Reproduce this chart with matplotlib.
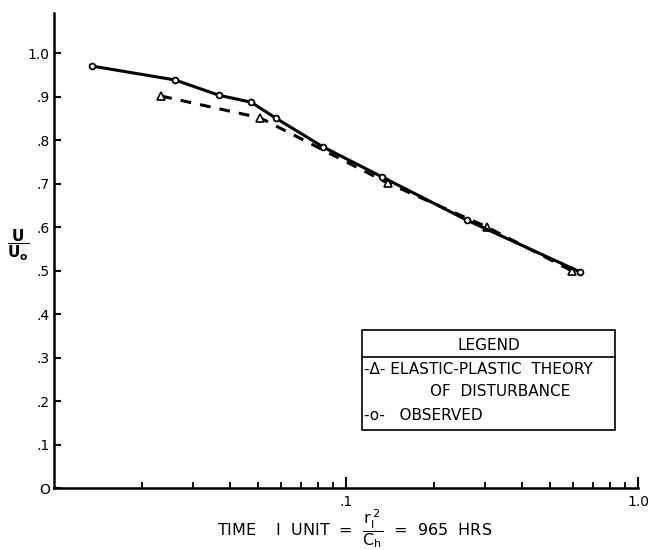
import matplotlib
matplotlib.use("Agg")
import matplotlib.pyplot as plt
from matplotlib.patches import Rectangle
from matplotlib.lines import Line2D
from matplotlib.ticker import FixedLocator, NullFormatter

# Observed values
obs_x = [0.0135, 0.0260, 0.0367, 0.0473, 0.0576, 0.0835, 0.133, 0.259, 0.632]
obs_y = [0.970, 0.938, 0.903, 0.887, 0.850, 0.784, 0.715, 0.616, 0.497]

# Elastic-plastic theory of disturbance
th_x = [0.0233, 0.0508, 0.139, 0.304, 0.594]
th_y = [0.901, 0.851, 0.701, 0.600, 0.499]

y_ticks = [0.0, 0.1, 0.2, 0.3, 0.4, 0.5, 0.6, 0.7, 0.8, 0.9, 1.0]
y_labels = ["O", ".1", ".2", ".3", ".4", ".5", ".6", ".7", ".8", ".9", "1.0"]
x_major = [0.1, 1.0]
x_major_labels = [".1", "1.0"]
x_minor = [0.02, 0.03, 0.04, 0.05, 0.06, 0.07, 0.08, 0.09,
           0.2, 0.3, 0.4, 0.5, 0.6, 0.7, 0.8, 0.9]

plt.rcParams['font.family'] = ['DejaVu Sans']
plt.rcParams['mathtext.fontset'] = 'dejavusans'

fig = plt.figure(figsize=(6.49, 5.5), dpi=100)
ax = fig.add_axes([54/649, 1-488/550, 584/649, 475/550])
ax.set_xscale('log')
ax.set_xlim(0.01, 1.0)
ax.set_ylim(0, 1.092)

ax.plot(obs_x, obs_y, '-', color='black', lw=2.2, marker='o', ms=4.2,
        mfc='white', mec='black', mew=1.3, zorder=3)
ax.plot(th_x, th_y, '--', color='black', lw=2.2, dashes=(3.5, 3.0), marker='^', ms=6,
        mfc='white', mec='black', mew=1.2, zorder=2)

for s in ['top', 'right']:
    ax.spines[s].set_visible(False)
for s in ['left', 'bottom']:
    ax.spines[s].set_linewidth(1.8)

ax.set_yticks(y_ticks)
ax.set_yticklabels(y_labels, fontsize=10)
ax.xaxis.set_major_locator(FixedLocator(x_major))
ax.set_xticklabels(x_major_labels, fontsize=10)
ax.xaxis.set_minor_locator(FixedLocator(x_minor))
ax.xaxis.set_minor_formatter(NullFormatter())
ax.tick_params(axis='x', which='major', direction='in', length=8, width=1.5, pad=5)
ax.tick_params(axis='x', which='minor', direction='in', length=4, width=1.3)
ax.tick_params(axis='y', which='major', direction='in', length=5, width=1.5, pad=3)
ax.tick_params(axis='y', which='minor', left=False)

# Legend box
lx0, lx1 = (362-54)/584, (615-54)/584
ly0, ly1 = (488-430)/475, (488-330)/475
lh = (488-357)/475
ax.add_patch(Rectangle((lx0, ly0), lx1-lx0, ly1-ly0, transform=ax.transAxes,
                       fill=False, ec='black', lw=1.2, zorder=5))
ax.add_line(Line2D([lx0, lx1], [lh, lh], transform=ax.transAxes, color='black', lw=1.2))
ax.text((lx0+lx1)/2, (488-345)/475, "LEGEND", transform=ax.transAxes,
        ha='center', va='center', fontsize=11)
ax.text(lx0+0.004, (488-369)/475, "-Δ- ELASTIC-PLASTIC  THEORY", transform=ax.transAxes,
        ha='left', va='center', fontsize=11)
ax.text((430-54)/584, (488-392)/475, "OF  DISTURBANCE", transform=ax.transAxes,
        ha='left', va='center', fontsize=11)
ax.text(lx0+0.004, (488-415)/475, "-o-   OBSERVED", transform=ax.transAxes,
        ha='left', va='center', fontsize=11)

fig.text(355/649, 1-529/550,
         r"TIME    I  UNIT  =  $\dfrac{\mathrm{r_I^{\,2}}}{\mathrm{C_h}}$  =  965  HRS",
         ha='center', va='center', fontsize=11.5)
fig.text(18/649, 1-245/550, r"$\dfrac{\mathbf{U}}{\mathbf{U_o}}$",
         ha='center', va='center', fontsize=11)

fig.savefig("out.png", dpi=100)
